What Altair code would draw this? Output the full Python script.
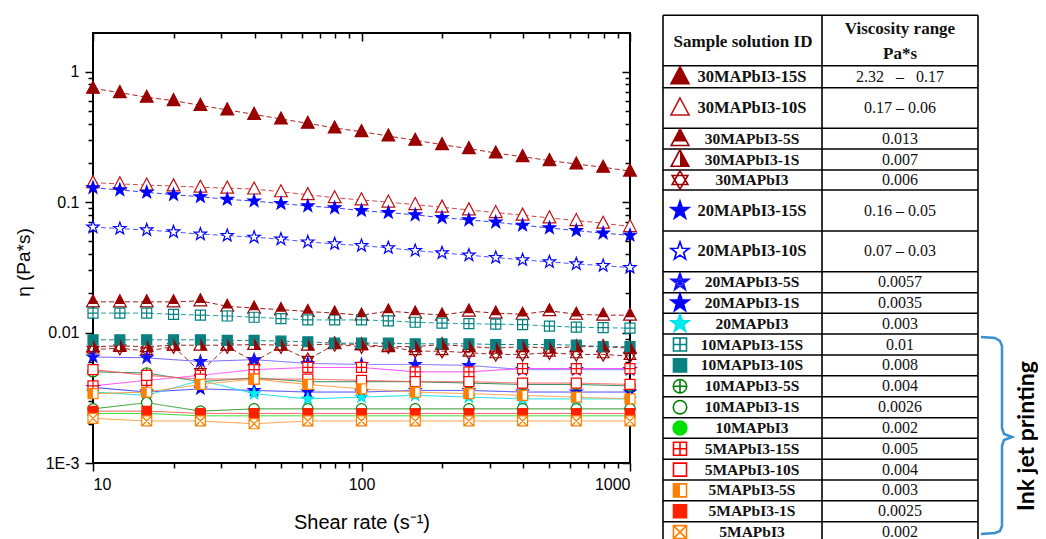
import altair as alt
import pandas as pd

# ---------------- data ----------------
shear_21 = [10, 12.59, 15.85, 19.95, 25.12, 31.62, 39.81, 50.12, 63.10, 79.43,
            100, 125.9, 158.5, 199.5, 251.2, 316.2, 398.1, 501.2, 631.0, 794.3, 1000]
shear_11 = [10, 15.85, 25.12, 39.81, 63.10, 100, 158.5, 251.2, 398.1, 631.0, 1000]

series_names = ["30MAPbI3-15S", "30MAPbI3-10S", "30MAPbI3-5S", "30MAPbI3-1S", "30MAPbI3",
                "20MAPbI3-15S", "20MAPbI3-10S", "20MAPbI3-5S", "20MAPbI3-1S", "20MAPbI3",
                "10MAPbI3-15S", "10MAPbI3-10S", "10MAPbI3-5S", "10MAPbI3-1S", "10MAPbI3",
                "5MAPbI3-15S", "5MAPbI3-10S", "5MAPbI3-5S", "5MAPbI3-1S", "5MAPbI3"]
viscosity_range = ["2.32\u00a0\u00a0 –\u00a0\u00a0 0.17", "0.17 – 0.06", "0.013", "0.007", "0.006",
                   "0.16 – 0.05", "0.07 – 0.03", "0.0057", "0.0035", "0.003",
                   "0.01", "0.008", "0.004", "0.0026", "0.002",
                   "0.005", "0.004", "0.003", "0.0025", "0.002"]

eta_30_15S = [0.746, 0.690, 0.637, 0.600, 0.552, 0.509, 0.471, 0.434, 0.402, 0.370,
              0.347, 0.321, 0.298, 0.276, 0.257, 0.238, 0.223, 0.208, 0.196, 0.185, 0.173]
eta_30_10S = [0.141, 0.138, 0.135, 0.133, 0.130, 0.128, 0.126, 0.120, 0.114, 0.108,
              0.104, 0.100, 0.0957, 0.0914, 0.0871, 0.0831, 0.0794, 0.0757, 0.0722, 0.0689, 0.0649]
eta_30_5S = [0.0172, 0.0172, 0.0172, 0.0172, 0.0175, 0.0159, 0.0154, 0.0150, 0.0145, 0.0141,
             0.0136, 0.0146, 0.0141, 0.0136, 0.0146, 0.0141, 0.0138, 0.0147, 0.0138, 0.0136, 0.0136]
eta_30_1S = [0.0078, 0.0079, 0.0078, 0.0080, 0.0080, 0.0080, 0.0081, 0.0080, 0.0080, 0.0082,
             0.0081, 0.0078, 0.0078, 0.0081, 0.0078, 0.0076, 0.0078, 0.0076, 0.0078, 0.0078, 0.0076]
eta_30 = [0.0074, 0.0076, 0.0072, 0.0078, 0.0050, 0.0078, 0.0060, 0.0078, 0.0062, 0.0081,
          0.0078, 0.0078, 0.0072, 0.0072, 0.0070, 0.0068, 0.0068, 0.0070, 0.0068, 0.0068, 0.0066]
eta_20_15S = [0.129, 0.124, 0.119, 0.114, 0.110, 0.105, 0.102, 0.0975, 0.0935, 0.0903,
              0.0861, 0.0832, 0.0798, 0.0760, 0.0731, 0.0702, 0.0665, 0.0634, 0.0605, 0.0578, 0.0557]
eta_20_10S = [0.0643, 0.0627, 0.0612, 0.0591, 0.0568, 0.0554, 0.0538, 0.0520, 0.0495, 0.0479,
              0.0464, 0.0446, 0.0425, 0.0408, 0.0392, 0.0376, 0.0361, 0.0348, 0.0336, 0.0326, 0.0315]
eta_20_5S = [0.0065, 0.0064, 0.0060, 0.0062, 0.0058, 0.0057, 0.0057, 0.0056, 0.0052, 0.0052, 0.0052]
eta_20_1S = [0.0038, 0.0035, 0.0037, 0.0036, 0.0035, 0.0035, 0.0036, 0.0036, 0.0035, 0.0035, 0.0035]
eta_20 = [0.0035, 0.0033, 0.0043, 0.0034, 0.0031, 0.0032, 0.0033, 0.0032, 0.0031, 0.0031, 0.0031]
eta_10_15S = [0.0141, 0.0141, 0.0141, 0.0138, 0.0136, 0.0134, 0.0131, 0.0128, 0.0125, 0.0125,
              0.0125, 0.0123, 0.0120, 0.0118, 0.0117, 0.0116, 0.0115, 0.0112, 0.0110, 0.0109, 0.0108]
eta_10_10S = [0.0088, 0.0088, 0.0088, 0.0088, 0.0088, 0.0087, 0.0087, 0.0086, 0.0085, 0.0083,
              0.0083, 0.0083, 0.0082, 0.0082, 0.0082, 0.0081, 0.0081, 0.0081, 0.0080, 0.0078, 0.0078]
eta_10_5S = [0.0050, 0.0049, 0.0042, 0.0045, 0.0042, 0.0042, 0.0042, 0.0041, 0.0040, 0.0040, 0.0039]
eta_10_1S = [0.0026, 0.0029, 0.0025, 0.0026, 0.0026, 0.0026, 0.0026, 0.0026, 0.0026, 0.0026, 0.0026]
eta_10 = [0.0024, 0.0024, 0.0023, 0.0023, 0.0023, 0.0023, 0.0023, 0.0023, 0.0023, 0.0023, 0.0023]
eta_5_15S = [0.0039, 0.0043, 0.0047, 0.0052, 0.0054, 0.0054, 0.0050, 0.0050, 0.0053, 0.0053, 0.0053]
eta_5_10S = [0.0052, 0.0047, 0.0044, 0.0044, 0.0044, 0.0043, 0.0042, 0.0042, 0.0041, 0.0041, 0.0040]
eta_5_5S = [0.0034, 0.0035, 0.0040, 0.0044, 0.0040, 0.0037, 0.0035, 0.0034, 0.0033, 0.0032, 0.0031]
eta_5_1S = [0.0025, 0.0025, 0.0024, 0.0024, 0.0024, 0.0024, 0.0024, 0.0024, 0.0024, 0.0024, 0.0024]
eta_5 = [0.0022, 0.0021, 0.0021, 0.0020, 0.0021, 0.0021, 0.0021, 0.0021, 0.0021, 0.0021, 0.0021]

eta_lists = [eta_30_15S, eta_30_10S, eta_30_5S, eta_30_1S, eta_30,
             eta_20_15S, eta_20_10S, eta_20_5S, eta_20_1S, eta_20,
             eta_10_15S, eta_10_10S, eta_10_5S, eta_10_1S, eta_10,
             eta_5_15S, eta_5_10S, eta_5_5S, eta_5_1S, eta_5]

x_major = [10, 100, 1000]
x_minor = [20, 30, 40, 50, 60, 70, 80, 90, 200, 300, 400, 500, 600, 700, 800, 900]
y_major = [0.001, 0.01, 0.1, 1]
y_minor = [0.002, 0.003, 0.004, 0.005, 0.006, 0.007, 0.008, 0.009,
           0.02, 0.03, 0.04, 0.05, 0.06, 0.07, 0.08, 0.09,
           0.2, 0.3, 0.4, 0.5, 0.6, 0.7, 0.8, 0.9]

# ---------------- styles ----------------
TRI = "M0,-1 L0.9,0.7 L-0.9,0.7 Z"
TRI_TOP = "M0,-1 L0.688,0.3 L-0.688,0.3 Z"
TRI_RIGHT = "M0,-1 L0.9,0.7 L0,0.7 Z"
HEX = "M0,-1 L0.866,0.5 L-0.866,0.5 Z M0,1 L0.866,-0.5 L-0.866,-0.5 Z"
STAR = ("M0,-1 L0.235,-0.324 L0.951,-0.309 L0.380,0.124 L0.588,0.809 L0,0.4 "
        "L-0.588,0.809 L-0.380,0.124 L-0.951,-0.309 L-0.235,-0.324 Z")
STAR_AST = STAR + (" M0,-1 L0,0.4 M-0.951,-0.309 L0.380,0.124 M0.951,-0.309 L-0.380,0.124"
                   " M0.588,0.809 L-0.235,-0.324 M-0.588,0.809 L0.235,-0.324")
SQ = "M-1,-1 L1,-1 L1,1 L-1,1 Z"
SQ_PLUS = SQ + " M0,-1 L0,1 M-1,0 L1,0"
SQ_X = SQ + " M-1,-1 L1,1 M-1,1 L1,-1"
SQ_LEFT = "M-1,-1 L0,-1 L0,1 L-1,1 Z"
CIRC = "M1,0 A1,1 0 1,1 -1,0 A1,1 0 1,1 1,0 Z"
CIRC_PLUS = CIRC + " M0,-1 L0,1 M-1,0 L1,0"

DR = "#990000"
shapes = [TRI, TRI, TRI, TRI, HEX,
          STAR, STAR, STAR_AST, STAR, STAR,
          SQ_PLUS, SQ, CIRC_PLUS, CIRC, CIRC,
          SQ_PLUS, SQ, SQ, SQ, SQ_X]
fills = [DR, "white", "white", "white", "transparent",
         "#0000ff", "white", "transparent", "#0000ff", "#00f0f0",
         "white", "#0a8080", "white", "white", "#00e000",
         "white", "white", "white", "#ff2000", "white"]
strokes = [DR, "#c01010", DR, DR, DR,
           "#0000ff", "#0000ff", "#1010ff", "#0000ff", "#00e0e8",
           "#008080", "#0a8080", "#008000", "#008000", "#00e000",
           "#ff0000", "#ff0000", "#ff8000", "#ff2000", "#ff8000"]
line_colors = ["#b02020", "#d04848", "#a01818", "#a01818", "#a02828",
               "#3c3cff", "#5050ff", "#7060ff", "#3333ff", "#10e0e8",
               "#20a0a0", "#208888", "#2e8b57", "#2e9b2e", "#33dd33",
               "#ff44ff", "#ff5050", "#ff9933", "#ff6060", "#ffa040"]
dashes = [[5, 3]] * 7 + [[1, 0]] * 3 + [[5, 3]] * 2 + [[1, 0]] * 8
plot_sizes = [200, 200, 200, 200, 180,
              170, 170, 160, 150, 150,
              100, 100, 110, 110, 100,
              100, 100, 100, 90, 100]
table_sizes = [400, 400, 380, 380, 330,
               360, 360, 340, 360, 360,
               170, 170, 180, 180, 190,
               170, 170, 170, 170, 170]
overlays = [("30MAPbI3-5S", TRI_TOP, DR), ("30MAPbI3-1S", TRI_RIGHT, DR), ("5MAPbI3-5S", SQ_LEFT, "#ff8000")]

# ---------------- layout (page pixel geometry) ----------------
W, H = 537, 430
PAD = {"left": 85, "top": 25, "right": 408, "bottom": 76}
table_row_lines = [15.3, 65.7, 87.7, 128.3, 149, 170, 190, 231, 271.7, 292.7, 313.3, 334,
                   355, 375.7, 396.7, 417.7, 438.3, 459.3, 480, 500.7, 521.7, 542.5]
table_col_lines = [663, 822, 978]
brace_pts_x = [981, 995, 1000, 1002, 1002, 1004, 1012, 1004, 1002, 1002, 1000, 995, 981]
brace_pts_y = [337, 338, 341, 346, 428, 434, 437, 440, 446, 526, 531, 533, 534]

# ---------------- frames ----------------
size_of = dict(zip(series_names, plot_sizes))
tsize_of = dict(zip(series_names, table_sizes))
rows = []
for name, vals in zip(series_names, eta_lists):
    grid = shear_21 if len(vals) == 21 else shear_11
    for xv, yv in zip(grid, vals):
        rows.append({"series": name, "shear": xv, "eta": yv})
df = pd.DataFrame(rows)
df["ps"] = df["series"].map(size_of)

centers = [(a + b) / 2 for a, b in zip(table_row_lines[1:-1], table_row_lines[2:])]
big = {"30MAPbI3-15S", "30MAPbI3-10S", "20MAPbI3-15S", "20MAPbI3-10S"}
tab = pd.DataFrame({"series": series_names, "value": viscosity_range, "yc": centers,
                    "sx": 680, "nx": 752, "vx": 900,
                    "fs": [16.5 if s in big else 15.5 for s in series_names]})
tab["ts"] = tab["series"].map(tsize_of)
hl = pd.DataFrame({"y": table_row_lines, "x0": table_col_lines[0], "x1": table_col_lines[-1]})
vl = pd.DataFrame({"x": table_col_lines, "y0": table_row_lines[0], "y1": table_row_lines[-1] + 4})
hdr = pd.DataFrame({"t": ["Sample solution ID", "Viscosity range", "Pa*s"],
                    "x": [743, 900, 900], "y": [41.5, 28.5, 54]})
brace = pd.DataFrame({"x": brace_pts_x, "y": brace_pts_y, "o": list(range(len(brace_pts_x)))})
side = pd.DataFrame({"t": ["Ink jet printing"], "x": [1027], "y": [436]})

# ---------------- scales ----------------
xs_log = alt.Scale(type="log", domain=[10, 1000], nice=False)
ys_log = alt.Scale(type="log", domain=[0.001, 1.98], nice=False)
tx = alt.Scale(domain=[93, 93 + W], nice=False, zero=False)
ty = alt.Scale(domain=[33, 33 + H], nice=False, zero=False, reverse=True)

def sc(rng):
    return alt.Scale(domain=series_names, range=rng)

tick = dict(tickColor="black", tickWidth=1.5, domain=False, grid=False)

x_axis_main = alt.Axis(orient="bottom", values=x_major, format="d", tickSize=8,
                       labelFontSize=16, labelPadding=5, labelFont="Liberation Sans",
                       labelColor="black", title="Shear rate (s⁻¹)", titleFont="Liberation Sans",
                       titleFontSize=20, titleFontWeight="normal", titleColor="black",
                       titleBaseline="top", titleY=49, **tick)
y_axis_main = alt.Axis(orient="left", values=y_major, tickSize=8,
                       labelExpr="datum.value >= 0.5 ? '1' : datum.value >= 0.05 ? '0.1' : datum.value >= 0.005 ? '0.01' : '1E-3'",
                       labelFontSize=16, labelPadding=6, labelFont="Liberation Sans", labelColor="black",
                       title="η (Pa*s)", titleFont="Liberation Sans", titleFontSize=19,
                       titleFontWeight="normal", titleColor="black", titleAngle=270,
                       titleBaseline="bottom", titleAlign="center", titleX=-60, titleY=229, **tick)

lines = alt.Chart(df).mark_line(strokeWidth=1).encode(
    x=alt.X("shear:Q", scale=xs_log, axis=x_axis_main),
    y=alt.Y("eta:Q", scale=ys_log, axis=y_axis_main),
    color=alt.Color("series:N", scale=sc(line_colors), legend=None),
    strokeDash=alt.StrokeDash("series:N", scale=sc(dashes), legend=None),
    detail="series:N",
)

points = alt.Chart(df).mark_point(filled=True, opacity=1, strokeWidth=1.2).encode(
    x=alt.X("shear:Q", scale=xs_log,
            axis=alt.Axis(orient="bottom", values=x_minor, labels=False, tickSize=5, title=None, **tick)),
    y=alt.Y("eta:Q", scale=ys_log,
            axis=alt.Axis(orient="left", values=y_minor, labels=False, tickSize=5, title=None, **tick)),
    shape=alt.Shape("series:N", scale=sc(shapes), legend=None),
    fill=alt.Fill("series:N", scale=sc(fills), legend=None),
    stroke=alt.Stroke("series:N", scale=sc(strokes), legend=None),
    size=alt.Size("ps:Q", scale=None),
)

overlay_layers = []
for s, path, col in overlays:
    overlay_layers.append(
        alt.Chart(df[df.series == s]).mark_point(shape=path, filled=True, fill=col, opacity=1,
                                                  strokeWidth=0, size=size_of[s]).encode(
            x=alt.X("shear:Q", scale=xs_log, axis=None),
            y=alt.Y("eta:Q", scale=ys_log, axis=None)))

mirror_major = alt.Chart(df).mark_point(opacity=0).encode(
    x=alt.X("shear:Q", scale=xs_log,
            axis=alt.Axis(orient="bottom", offset=-H, values=x_major, labels=False, tickSize=8, title=None, **tick)),
    y=alt.Y("eta:Q", scale=ys_log,
            axis=alt.Axis(orient="left", offset=-W, values=y_major, labels=False, tickSize=8, title=None, **tick)),
)
mirror_minor = alt.Chart(df).mark_point(opacity=0).encode(
    x=alt.X("shear:Q", scale=xs_log,
            axis=alt.Axis(orient="bottom", offset=-H, values=x_minor, labels=False, tickSize=5, title=None, **tick)),
    y=alt.Y("eta:Q", scale=ys_log,
            axis=alt.Axis(orient="left", offset=-W, values=y_minor, labels=False, tickSize=5, title=None, **tick)),
)

# ---------------- table ----------------
t_hl = alt.Chart(hl).mark_rule(color="black", strokeWidth=1.6).encode(
    x=alt.X("x0:Q", scale=tx, axis=None), x2="x1:Q", y=alt.Y("y:Q", scale=ty, axis=None))
t_vl = alt.Chart(vl).mark_rule(color="black", strokeWidth=1.6).encode(
    x=alt.X("x:Q", scale=tx, axis=None), y=alt.Y("y0:Q", scale=ty, axis=None), y2="y1:Q")
t_sym = alt.Chart(tab).mark_point(filled=True, opacity=1, strokeWidth=1.6).encode(
    x=alt.X("sx:Q", scale=tx, axis=None), y=alt.Y("yc:Q", scale=ty, axis=None),
    shape=alt.Shape("series:N", scale=sc(shapes), legend=None),
    fill=alt.Fill("series:N", scale=sc(fills), legend=None),
    stroke=alt.Stroke("series:N", scale=sc(strokes), legend=None),
    size=alt.Size("ts:Q", scale=None),
)
t_over = []
for s, path, col in overlays:
    t_over.append(alt.Chart(tab[tab.series == s]).mark_point(
        shape=path, filled=True, fill=col, opacity=1, strokeWidth=0, size=tsize_of[s]).encode(
        x=alt.X("sx:Q", scale=tx, axis=None), y=alt.Y("yc:Q", scale=ty, axis=None)))
t_names = alt.Chart(tab).mark_text(font="Liberation Serif", fontWeight="bold", color="#111").encode(
    x=alt.X("nx:Q", scale=tx, axis=None), y=alt.Y("yc:Q", scale=ty, axis=None),
    text="series:N", size=alt.Size("fs:Q", scale=None))
t_vals = alt.Chart(tab).mark_text(font="Liberation Serif", fontSize=16, color="#111").encode(
    x=alt.X("vx:Q", scale=tx, axis=None), y=alt.Y("yc:Q", scale=ty, axis=None), text="value:N")
t_hdr = alt.Chart(hdr).mark_text(font="Liberation Serif", fontWeight="bold", fontSize=17, color="#111").encode(
    x=alt.X("x:Q", scale=tx, axis=None), y=alt.Y("y:Q", scale=ty, axis=None), text="t:N")
t_brace = alt.Chart(brace).mark_line(color="#3a8fd0", strokeWidth=2.5).encode(
    x=alt.X("x:Q", scale=tx, axis=None), y=alt.Y("y:Q", scale=ty, axis=None), order="o:Q")
t_side = alt.Chart(side).mark_text(font="Lato", fontWeight="bold", fontSize=23, angle=270, color="black").encode(
    x=alt.X("x:Q", scale=tx, axis=None), y=alt.Y("y:Q", scale=ty, axis=None), text="t:N")

chart = alt.layer(
    lines, points, *overlay_layers, mirror_major, mirror_minor,
    t_hl, t_vl, t_sym, *t_over, t_names, t_vals, t_hdr, t_brace, t_side,
).resolve_scale(
    x="independent", y="independent"
).properties(
    width=W, height=H, autosize=alt.AutoSizeParams(type="none"), padding=PAD, background="white"
).configure_view(stroke="black", strokeWidth=2)

chart.save("out.html", embed_options={"renderer": "svg", "actions": False})
